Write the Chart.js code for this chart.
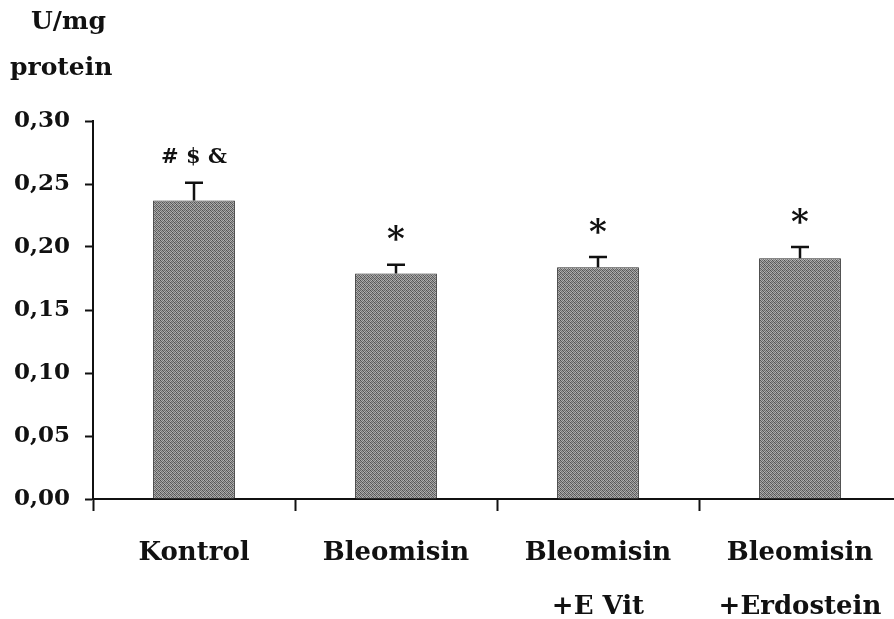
<!DOCTYPE html>
<html lang="tr">
<head>
    <meta charset="UTF-8">
    <title>U/mg protein</title>
    <style>
        body {
            margin: 0;
            padding: 0;
            background: #fff;
        }
        .wrap {
            position: relative;
            width: 894px;
            height: 619px;
            overflow: hidden;
        }
        .unit {
            position: absolute;
            font-family: 'DejaVu Serif', serif;
            font-weight: bold;
            font-size: 25px;
            color: #111;
        }
        canvas {
            display: block;
        }
    </style>
    <script src="https://cdn.jsdelivr.net/npm/chart.js"></script>
</head>
<body>
<div class="wrap">
    <div class="unit" style="left:31px; top:6px;">U/mg</div>
    <div class="unit" style="left:10px; top:52px;">protein</div>
    <!-- a little wider than the window: the last category runs past the right edge -->
    <canvas id="chart" width="902" height="619"></canvas>
</div>

<script>
    const groups = ['Kontrol', 'Bleomisin', ['Bleomisin', '+E Vit'], ['Bleomisin', '+Erdostein']];
    const means = [0.237, 0.179, 0.184, 0.191];
    const errors = [0.014, 0.007, 0.008, 0.009];
    const marks = ['# $ &', '*', '*', '*'];
    const yTicks = [0, 0.05, 0.10, 0.15, 0.20, 0.25, 0.30];

    const SERIF = "'DejaVu Serif', serif";

    // small stippled grey fill, like the scanned bars
    function stipple() {
        const p = document.createElement('canvas');
        p.width = 4;
        p.height = 4;
        const g = p.getContext('2d');
        const shades = ['#505050', '#a8a8a8', '#747474', '#b4b4b4',
                        '#9a9a9a', '#5c5c5c', '#b0b0b0', '#6a6a6a',
                        '#686868', '#a6a6a6', '#545454', '#9c9c9c',
                        '#b2b2b2', '#707070', '#a0a0a0', '#585858'];
        shades.forEach((s, i) => {
            g.fillStyle = s;
            g.fillRect(i % 4, Math.floor(i / 4), 1, 1);
        });
        return g.createPattern(p, 'repeat');
    }

    // error bar caps and significance marks above each bar
    const extras = {
        id: 'extras',
        afterDatasetsDraw(chart) {
            const c = chart.ctx;
            const y = chart.scales.y;
            const meta = chart.getDatasetMeta(0);
            c.save();
            c.strokeStyle = '#111';
            c.lineWidth = 2.5;
            meta.data.forEach((bar, i) => {
                const top = y.getPixelForValue(means[i] + errors[i]);
                c.beginPath();
                c.moveTo(bar.x, bar.y);
                c.lineTo(bar.x, top);
                c.moveTo(bar.x - 9, top);
                c.lineTo(bar.x + 9, top);
                c.stroke();
                c.fillStyle = '#111';
                c.textAlign = 'center';
                c.textBaseline = 'bottom';
                if (marks[i] === '*') {
                    c.font = 'bold 34px ' + SERIF;
                    c.fillText(marks[i], bar.x, top - 6);
                } else {
                    c.font = 'bold 21px ' + SERIF;
                    c.fillText(marks[i], bar.x, top - 15);
                }
            });
            c.restore();
        }
    };

    const ctx = document.getElementById('chart').getContext('2d');

    const chart = new Chart(ctx, {
        type: 'bar',
        data: {
            labels: groups,
            datasets: [{
                data: means,
                backgroundColor: stipple(),
                borderColor: '#2a2a2a',
                borderWidth: 1,
                barPercentage: 0.81,
                categoryPercentage: 0.5
            }]
        },
        options: {
            responsive: false,
            animation: false,
            layout: { padding: { top: 121, right: 1, left: 0, bottom: 0 } },
            plugins: {
                legend: { display: false },
                tooltip: { enabled: false }
            },
            scales: {
                x: {
                    offset: true,
                    border: { color: '#111', width: 2 },
                    grid: {
                        offset: true,
                        drawOnChartArea: false,
                        tickLength: 12,
                        tickColor: '#111',
                        tickWidth: 2
                    },
                    ticks: {
                        color: '#111',
                        padding: 16,
                        maxRotation: 0,
                        autoSkip: false,
                        font: { family: SERIF, size: 26, weight: 'bold', lineHeight: 2.05 }
                    },
                    afterFit(scale) { scale.height = 120; }
                },
                y: {
                    min: 0,
                    max: 0.30,
                    border: { color: '#111', width: 2 },
                    grid: {
                        drawOnChartArea: false,
                        tickLength: 8,
                        tickColor: '#111',
                        tickWidth: 2
                    },
                    afterBuildTicks(scale) {
                        scale.ticks = yTicks.map(v => ({ value: v }));
                    },
                    ticks: {
                        color: '#111',
                        padding: 15,
                        font: { family: SERIF, size: 23, weight: 'bold' },
                        callback: v => v.toFixed(2).replace('.', ',')
                    },
                    afterFit(scale) { scale.width = 93; }
                }
            }
        },
        plugins: [extras]
    });
</script>
</body>
</html>
